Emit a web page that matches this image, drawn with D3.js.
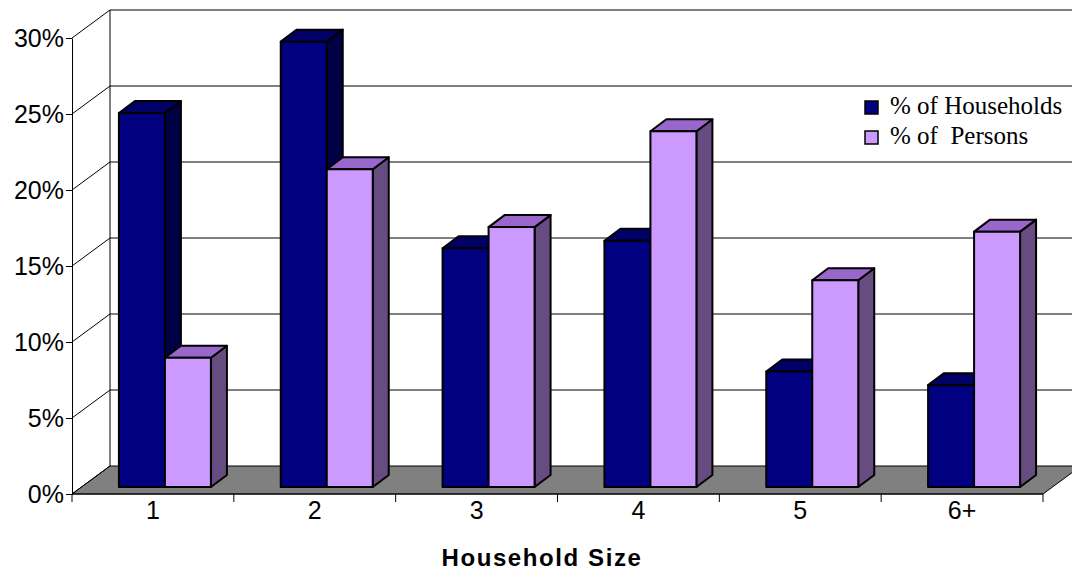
<!DOCTYPE html>
<html><head><meta charset="utf-8">
<script src="https://cdn.jsdelivr.net/npm/d3@7"></script>
<style>body{margin:0;background:#fff;overflow:hidden}</style>
</head><body>
<svg id="chart" width="1072" height="583"></svg>
<script>
const categories = ["1", "2", "3", "4", "5", "6+"]
const households = [24.6, 29.3, 15.7, 16.2, 7.6, 6.7]
const persons = [8.5, 20.9, 17.1, 23.4, 13.6, 16.8]
const yTicks = [0, 5, 10, 15, 20, 25, 30]
const seriesNames = ["% of Households", "% of  Persons"]

const svg = d3.select("#chart")
const plotLeft = 72, plotRight = 1043, plotBottom = 494, plotTop = 38
const dx = 38, dy = -28   // wall depth
const y = d3.scaleLinear().domain([0, 30]).range([plotBottom, plotTop])
const x = d3.scaleBand().domain(categories).range([plotLeft, plotRight])

// floor
svg.append("polygon")
  .attr("points", [[plotLeft, plotBottom], [plotRight, plotBottom], [plotRight + dx, plotBottom + dy], [plotLeft + dx, plotBottom + dy]].join(" "))
  .attr("fill", "#808080").attr("stroke", "#000").attr("stroke-width", 1)

// back wall gridlines + left wall
yTicks.forEach(t => {
  const yy = y(t) + dy
  if (t > 0) svg.append("line").attr("x1", plotLeft + dx).attr("x2", plotRight + dx).attr("y1", yy).attr("y2", yy).attr("stroke", "#000")
  svg.append("line").attr("x1", plotLeft).attr("y1", y(t)).attr("x2", plotLeft + dx).attr("y2", yy).attr("stroke", "#000")
})
svg.append("line").attr("x1", plotLeft + dx).attr("x2", plotLeft + dx).attr("y1", y(30) + dy).attr("y2", plotBottom + dy).attr("stroke", "#000")

// y axis
const yAxis = svg.append("g").attr("transform", `translate(${plotLeft},0)`)
  .call(d3.axisLeft(y).tickValues(yTicks).tickSize(6).tickSizeOuter(0).tickFormat(d => d + "%"))
yAxis.attr("font-family", "Liberation Sans, Arial").attr("font-size", 25)
yAxis.selectAll("text").attr("fill", "#000").attr("dx", 1)
yAxis.selectAll("line,path").attr("stroke", "#000")

// x axis
const xAxis = svg.append("g").attr("transform", `translate(0,${plotBottom})`)
  .call(d3.axisBottom(x).tickSize(0))
xAxis.select("path").remove()
xAxis.attr("font-family", "Liberation Sans, Arial").attr("font-size", 25)
xAxis.selectAll("text").attr("fill", "#000").attr("dy", 22)
svg.append("line").attr("x1", plotLeft).attr("x2", plotRight).attr("y1", plotBottom).attr("y2", plotBottom).attr("stroke", "#000")
d3.range(categories.length + 1).forEach(i => {
  const xx = plotLeft + i * x.step()
  svg.append("line").attr("x1", xx).attr("x2", xx).attr("y1", plotBottom).attr("y2", plotBottom + 8).attr("stroke", "#000")
})

svg.append("text").attr("x", 542).attr("y", 566).attr("text-anchor", "middle")
  .attr("font-family", "Liberation Sans, Arial").attr("font-weight", "bold").attr("font-size", 24)
  .attr("letter-spacing", 1.6)
  .text("Household Size")

// bars
const bx = 14, base = 487, bw = 46, bdx = 16, bdy = -12
const by = d3.scaleLinear().domain([0, 30]).range([base, base - (plotBottom - plotTop)])
const styles = [
  {front: "#000080", topc: "#000066", side: "#000045"},
  {front: "#CC99FF", topc: "#9966CC", side: "#664C80"}
]
const bars = []
categories.forEach((c, i) => {
  bars.push({c, s: 0, v: households[i]})
  bars.push({c, s: 1, v: persons[i]})
})
const g = svg.append("g").attr("stroke", "#000").attr("stroke-width", 2).attr("stroke-linejoin", "round")
bars.forEach(d => {
  const x0 = x(d.c) + bx + (x.step() - 2 * bw) / 2 - 2 + d.s * bw
  const y0 = by(d.v), st = styles[d.s]
  g.append("polygon").attr("points", [[x0 + bw, y0], [x0 + bw + bdx, y0 + bdy], [x0 + bw + bdx, base + bdy], [x0 + bw, base]].join(" ")).attr("fill", st.side)
  g.append("polygon").attr("points", [[x0, y0], [x0 + bdx, y0 + bdy], [x0 + bw + bdx, y0 + bdy], [x0 + bw, y0]].join(" ")).attr("fill", st.topc)
  g.append("rect").attr("x", x0).attr("y", y0).attr("width", bw).attr("height", base - y0).attr("fill", st.front)
})

// legend
const lg = svg.append("g")
lg.append("rect").attr("x", 855).attr("y", 88).attr("width", 217).attr("height", 70).attr("fill", "#fff")
seriesNames.forEach((n, i) => {
  const yy = 107 + i * 30
  lg.append("rect").attr("x", 865).attr("y", yy - 6).attr("width", 13).attr("height", 13)
    .attr("fill", styles[i].front).attr("stroke", "#000").attr("stroke-width", 1.5)
  lg.append("text").attr("x", 890).attr("y", yy + 7).attr("font-family", "Liberation Serif, Times New Roman")
    .attr("font-size", 25).style("white-space", "pre").text(n)
})
</script>
</body></html>
